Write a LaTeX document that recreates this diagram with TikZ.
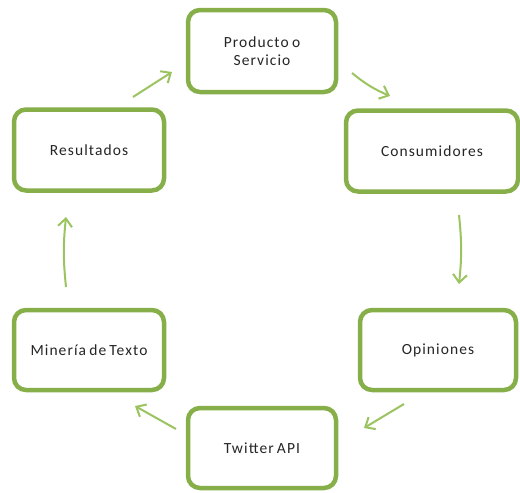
\documentclass[tikz,border=0pt]{standalone}
\usepackage{fontspec}
\setmainfont{Carlito}[LetterSpace=7,WordSpace=0.7]
\usetikzlibrary{arrows.meta}
\definecolor{boxgreen}{RGB}{134,175,73}
\definecolor{arrgreen}{RGB}{155,195,95}
\begin{document}
\begin{tikzpicture}[x=1pt,y=-1pt,
  box/.style={draw=boxgreen,line width=4.5pt,rounded corners=12pt,fill=white,align=center,font=\fontsize{15.5}{17.5}\selectfont,text=black!85},
  flow/.style={draw=arrgreen,line width=2pt,-{Straight Barb[length=8pt,width=14pt,line width=2pt]}}]
\useasboundingbox (0,0) rectangle (520,493);
\node[box,minimum width=148pt,minimum height=82pt] (prod) at (262,51) {Producto o\\Servicio};
\node[box,minimum width=172pt,minimum height=81pt] (cons) at (432,151) {Consumidores};
\node[box,minimum width=150pt,minimum height=81pt] (res) at (89,150) {Resultados};
\node[box,minimum width=150pt,minimum height=80pt] (min) at (89,350) {Minería de Texto};
\node[box,minimum width=156pt,minimum height=80pt] (opi) at (438,350) {Opiniones};
\node[box,minimum width=148pt,minimum height=80pt] (tw) at (262,448) {Twitter API};
\coordinate (a1s) at (133,97); \coordinate (a1e) at (172,72);
\coordinate (a2s) at (352,73); \coordinate (a2e) at (390,96);
\coordinate (a3s) at (459,215); \coordinate (a3e) at (459,284);
\coordinate (a4s) at (404,404); \coordinate (a4e) at (364,428);
\coordinate (a5s) at (176,429); \coordinate (a5e) at (135,406);
\coordinate (a6s) at (66,287); \coordinate (a6e) at (66,217);
\draw[flow] (a1s) -- (a1e);
\draw[flow] (a2s) to[bend right=8] (a2e);
\draw[flow] (a3s) to[bend left=6] (a3e);
\draw[flow] (a4s) -- (a4e);
\draw[flow] (a5s) -- (a5e);
\draw[flow] (a6s) to[bend left=6] (a6e);
\end{tikzpicture}
\end{document}
